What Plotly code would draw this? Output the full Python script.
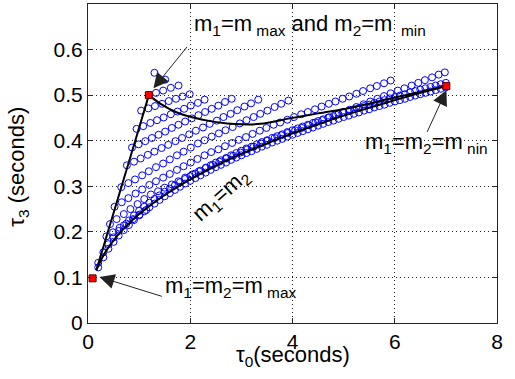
import plotly.graph_objects as go

# ---------------- data ----------------
r0_x = [1.30, 1.51]
r0_y = [0.549, 0.534]

r1_x = [1.19, 1.33, 1.47, 1.62, 1.77]
r1_y = [0.500, 0.505, 0.510, 0.516, 0.521]

r2_x = [1.04, 1.18, 1.31, 1.45, 1.58, 1.72, 1.85, 1.99]
r2_y = [0.466, 0.471, 0.476, 0.481, 0.487, 0.492, 0.497, 0.502]

r3_x = [0.95, 1.08, 1.22, 1.35, 1.48, 1.62, 1.75, 1.88, 2.01, 2.15, 2.28]
r3_y = [0.426, 0.432, 0.439, 0.445, 0.451, 0.458, 0.464, 0.470, 0.477, 0.483, 0.490]

r4_x = [0.86, 0.99, 1.12, 1.25, 1.38, 1.51, 1.64, 1.77, 1.90, 2.03, 2.16, 2.29, 2.42, 2.55, 2.68, 2.81]
r4_y = [0.385, 0.392, 0.399, 0.406, 0.413, 0.420, 0.428, 0.435, 0.442, 0.449, 0.456, 0.463, 0.470, 0.477, 0.485, 0.492]

r5_x = [0.76, 0.90, 1.03, 1.17, 1.30, 1.44, 1.57, 1.71, 1.84, 1.98, 2.11, 2.25, 2.38, 2.52, 2.65, 2.79, 2.92, 3.06, 3.19, 3.33]
r5_y = [0.346, 0.354, 0.361, 0.369, 0.376, 0.384, 0.391, 0.399, 0.406, 0.414, 0.422, 0.429, 0.437, 0.444, 0.452, 0.459, 0.467, 0.475, 0.482, 0.490]

r6_x = [0.65, 0.79, 0.92, 1.06, 1.19, 1.33, 1.47, 1.60, 1.74, 1.87, 2.01, 2.15, 2.28, 2.42, 2.56, 2.69, 2.83,
        2.97, 3.10, 3.24, 3.37, 3.51, 3.65, 3.78, 3.92]
r6_y = [0.298, 0.307, 0.315, 0.324, 0.333, 0.342, 0.350, 0.359, 0.368, 0.376, 0.385, 0.394, 0.401, 0.409, 0.416,
        0.423, 0.430, 0.438, 0.445, 0.452, 0.459, 0.466, 0.474, 0.481, 0.488]

r7_x = [0.52, 0.66, 0.79, 0.93, 1.06, 1.20, 1.33, 1.47, 1.60, 1.74, 1.87, 2.01, 2.14, 2.28, 2.41, 2.55, 2.68, 2.82,
        2.95, 3.09, 3.22, 3.36, 3.49, 3.63, 3.76, 3.90, 4.03, 4.17, 4.30, 4.44, 4.57, 4.71, 4.84, 4.98, 5.11, 5.25,
        5.38, 5.52, 5.65, 5.79, 5.92]
r7_y = [0.255, 0.265, 0.274, 0.284, 0.293, 0.303, 0.311, 0.319, 0.327, 0.336, 0.344, 0.352, 0.360, 0.368, 0.375,
        0.381, 0.388, 0.395, 0.402, 0.408, 0.415, 0.422, 0.428, 0.435, 0.440, 0.446, 0.452, 0.458, 0.463, 0.469,
        0.475, 0.481, 0.486, 0.492, 0.497, 0.503, 0.509, 0.515, 0.520, 0.526, 0.532]

r8_x = [0.43, 0.56, 0.70, 0.83, 0.97, 1.10, 1.23, 1.37, 1.50, 1.64, 1.77, 1.90, 2.04, 2.17, 2.31, 2.44, 2.57, 2.71,
        2.84, 2.98, 3.11, 3.24, 3.38, 3.51, 3.65, 3.78, 3.91, 4.05, 4.18, 4.32, 4.45, 4.58, 4.72, 4.85, 4.99, 5.12,
        5.25, 5.39, 5.52, 5.66, 5.79, 5.92, 6.06, 6.19, 6.33, 6.46, 6.59, 6.73, 6.86, 6.98]
r8_y = [0.217, 0.228, 0.239, 0.250, 0.261, 0.272, 0.282, 0.289, 0.297, 0.304, 0.311, 0.319, 0.326, 0.333, 0.341,
        0.347, 0.354, 0.361, 0.367, 0.374, 0.381, 0.387, 0.394, 0.400, 0.406, 0.412, 0.417, 0.423, 0.428, 0.434,
        0.440, 0.445, 0.451, 0.457, 0.463, 0.468, 0.474, 0.480, 0.486, 0.492, 0.498, 0.504, 0.510, 0.515, 0.521,
        0.527, 0.533, 0.539, 0.545, 0.550]

r9_x = [0.36, 0.49, 0.62, 0.75, 0.88, 1.01, 1.14]
r9_y = [0.190, 0.199, 0.209, 0.218, 0.228, 0.238, 0.248]

bundle_x = [0.2, 0.3, 0.4, 0.5, 0.6, 0.7, 0.8, 0.9, 1.0, 1.1, 1.2, 1.3, 1.4, 1.5, 1.6, 1.7, 1.8, 1.9, 2.0, 2.1,
            2.2, 2.3, 2.4, 2.5, 2.6, 2.7, 2.8, 2.9, 3.0, 3.1, 3.2, 3.3, 3.4, 3.5, 3.6, 3.7, 3.8, 3.9, 4.0, 4.1,
            4.2, 4.3, 4.4, 4.5, 4.6, 4.7, 4.8, 4.9, 5.0, 5.1, 5.2, 5.3, 5.4, 5.5, 5.6, 5.7, 5.8, 5.9, 6.0, 6.1,
            6.2, 6.3, 6.4, 6.5, 6.6, 6.7, 6.8, 6.9, 7.0]
bundle_upper_y = [0.132, 0.155, 0.173, 0.188, 0.202, 0.214, 0.225, 0.236, 0.246, 0.255, 0.264, 0.272, 0.280, 0.288,
                  0.295, 0.302, 0.309, 0.316, 0.322, 0.328, 0.334, 0.340, 0.346, 0.352, 0.357, 0.362, 0.368, 0.373,
                  0.378, 0.383, 0.387, 0.392, 0.397, 0.401, 0.406, 0.410, 0.414, 0.419, 0.423, 0.427, 0.431, 0.435,
                  0.439, 0.443, 0.447, 0.451, 0.454, 0.458, 0.462, 0.465, 0.469, 0.472, 0.476, 0.479, 0.483, 0.486,
                  0.489, 0.493, 0.496, 0.499, 0.502, 0.506, 0.509, 0.512, 0.515, 0.518, 0.521, 0.524, 0.527]
bundle_lower_y = [0.122, 0.144, 0.163, 0.178, 0.192, 0.204, 0.215, 0.226, 0.236, 0.245, 0.254, 0.262, 0.270, 0.278,
                  0.285, 0.292, 0.299, 0.306, 0.312, 0.318, 0.324, 0.330, 0.336, 0.342, 0.347, 0.352, 0.358, 0.363,
                  0.368, 0.373, 0.377, 0.382, 0.387, 0.391, 0.396, 0.400, 0.404, 0.409, 0.413, 0.417, 0.421, 0.425,
                  0.429, 0.433, 0.437, 0.441, 0.444, 0.448, 0.452, 0.455, 0.459, 0.462, 0.466, 0.469, 0.473, 0.476,
                  0.479, 0.483, 0.486, 0.489, 0.492, 0.496, 0.499, 0.502, 0.505, 0.508, 0.511, 0.514, 0.517]

# boundary curves
equal_mass_x = [0.16, 0.2, 0.3, 0.4, 0.5, 0.6, 0.8, 1.0, 1.3, 1.6, 2.0, 2.5, 3.0, 3.5, 4.0, 4.5, 5.0, 5.5, 6.0, 6.5, 7.0]
equal_mass_y = [0.116, 0.125, 0.148, 0.166, 0.181, 0.195, 0.218, 0.239, 0.265, 0.288, 0.315, 0.345, 0.371, 0.394,
                0.416, 0.436, 0.455, 0.472, 0.489, 0.505, 0.520]
m1max_x = [0.166, 0.41, 0.93, 1.19]
m1max_y = [0.1165, 0.208, 0.402, 0.500]
m2min_x = [1.19, 1.42, 1.74, 2.06, 2.39, 2.72, 3.0, 3.37, 3.95, 4.5, 5.12, 5.6, 6.0, 6.5, 7.01]
m2min_y = [0.500, 0.481, 0.462, 0.451, 0.443, 0.438, 0.436, 0.437, 0.449, 0.460, 0.472, 0.484, 0.495, 0.507, 0.520]

corner_x = [0.09, 1.19, 7.01]
corner_y = [0.098, 0.500, 0.520]

x_ticks = [0, 2, 4, 6, 8]
y_ticks = [0, 0.1, 0.2, 0.3, 0.4, 0.5, 0.6]
y_tick_text = ["0", "0.1", "0.2", "0.3", "0.4", "0.5", "0.6"]

# ---------------- figure ----------------
FONT = "Liberation Sans, Arial, Helvetica, sans-serif"
fig = go.Figure()

circle_rows = [(r0_x, r0_y), (r1_x, r1_y), (r2_x, r2_y), (r3_x, r3_y), (r4_x, r4_y), (r5_x, r5_y),
               (r6_x, r6_y), (r7_x, r7_y), (r8_x, r8_y), (r9_x, r9_y),
               (bundle_x, bundle_upper_y), (bundle_x, bundle_lower_y)]
for xs, ys in circle_rows:
    fig.add_trace(go.Scatter(x=xs, y=ys, mode="markers",
                             marker=dict(symbol="circle-open", size=7, color="#0000ff",
                                         line=dict(width=1, color="#0000ff")),
                             hoverinfo="skip"))

for xs, ys in [(equal_mass_x, equal_mass_y), (m1max_x, m1max_y), (m2min_x, m2min_y)]:
    fig.add_trace(go.Scatter(x=xs, y=ys, mode="lines", line=dict(color="black", width=2, shape="spline"),
                             hoverinfo="skip"))

fig.add_trace(go.Scatter(x=corner_x, y=corner_y, mode="markers",
                         marker=dict(symbol="square", size=7, color="#ff0000",
                                     line=dict(width=1, color="#600000")),
                         hoverinfo="skip"))

axis_common = dict(showgrid=True, gridcolor="#222222", griddash="1px,3px", gridwidth=1,
                   ticks="inside", ticklen=5, tickcolor="#262626", mirror="ticks",
                   showline=True, linecolor="#262626", linewidth=1, zeroline=False,
                   tickfont=dict(family=FONT, size=21, color="black"))

fig.update_xaxes(range=[0, 8], tickmode="array", tickvals=x_ticks, **axis_common)
fig.update_yaxes(range=[0, 0.7], tickmode="array", tickvals=y_ticks, ticktext=y_tick_text, **axis_common)

NB = "\u00a0"
annotations = [
    dict(x=2.04, y=0.655, xref="x", yref="y", xanchor="left", yanchor="middle", showarrow=False,
         text=f"m<sub>1</sub>=m<sub>{NB}max</sub>{NB}and m<sub>2</sub>=m<sub>{NB}{NB}min</sub>",
         font=dict(family=FONT, size=22, color="black")),
    dict(x=5.375, y=0.395, xref="x", yref="y", xanchor="left", yanchor="middle", showarrow=False,
         text=f"m<sub>1</sub>=m<sub>2</sub>=m<sub>{NB}nin</sub>",
         font=dict(family=FONT, size=22, color="black")),
    dict(x=1.47, y=0.078, xref="x", yref="y", xanchor="left", yanchor="middle", showarrow=False,
         text=f"m<sub>1</sub>=m<sub>2</sub>=m<sub>{NB}max</sub>",
         font=dict(family=FONT, size=22, color="black")),
    dict(x=2.62, y=0.28, xref="x", yref="y", xanchor="center", yanchor="middle", showarrow=False,
         text="m<sub>1</sub>=m<sub>2</sub>", textangle=-42,
         font=dict(family=FONT, size=22, color="black")),
    # arrows
    dict(x=1.28, y=0.515, ax=1.96, ay=0.609, xref="x", yref="y", axref="x", ayref="y", text="",
         showarrow=True, arrowhead=2, arrowsize=3, arrowwidth=1, arrowcolor="#222222"),
    dict(x=7.01, y=0.511, ax=6.62, ay=0.416, xref="x", yref="y", axref="x", ayref="y", text="",
         showarrow=True, arrowhead=2, arrowsize=3, arrowwidth=1, arrowcolor="#222222"),
    dict(x=0.224, y=0.101, ax=1.473, ay=0.0575, xref="x", yref="y", axref="x", ayref="y", text="",
         showarrow=True, arrowhead=2, arrowsize=3, arrowwidth=1, arrowcolor="#222222"),
    # axis titles
    dict(x=0.5, y=-0.102, xref="paper", yref="paper", xanchor="center", yanchor="middle", showarrow=False,
         text="τ<sub>0</sub>(seconds)", font=dict(family=FONT, size=22, color="black")),
    dict(x=-0.171, y=0.49, xref="paper", yref="paper", xanchor="center", yanchor="middle", showarrow=False,
         text="τ<sub>3</sub> (seconds)", textangle=-90, font=dict(family=FONT, size=22, color="black")),
]

fig.update_layout(width=515, height=379, margin=dict(l=88, r=18, t=4, b=56),
                  plot_bgcolor="white", paper_bgcolor="white", showlegend=False,
                  font=dict(family=FONT, size=21, color="black"),
                  annotations=annotations)

fig.write_html("out.html")
